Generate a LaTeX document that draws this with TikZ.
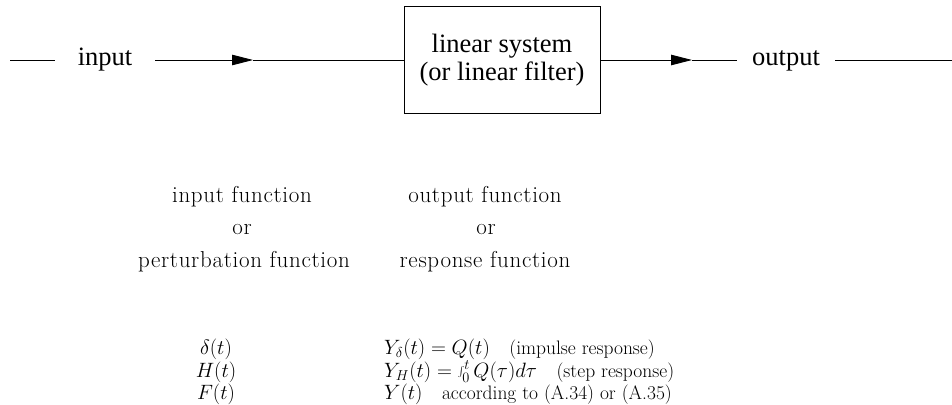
\documentclass[tikz,border=0pt]{standalone}
\usepackage{fontspec}
\setmainfont{Liberation Serif}
\newfontfamily\lmfont{Latin Modern Roman}
\newfontfamily\lmspaced[LetterSpace=3]{Latin Modern Roman}
\usetikzlibrary{arrows.meta}
\begin{document}
\begin{tikzpicture}[x=1pt,y=-1pt,
  line/.style={line width=0.9pt},
  arr/.style={line width=0.9pt,-{Triangle[length=21pt,width=10.5pt]}},
  toplab/.style={font=\fontsize{26.5}{28}\selectfont, inner sep=0pt, anchor=base},
  sysbox/.style={draw, line width=1pt, minimum width=196pt, minimum height=106pt, align=center, inner sep=0pt, font=\fontsize{26.5}{28}\selectfont},
  botlab/.style={font=\lmspaced\fontsize{23}{25}\selectfont, inner sep=0pt, anchor=base},
  mathlab/.style={font=\lmfont\fontsize{19.5}{22}\selectfont, inner sep=0pt, anchor=base, text height=14pt, text depth=4pt},
  mathrow/.style={font=\lmfont\fontsize{19.5}{22}\selectfont, inner sep=0pt, anchor=base west, text height=14pt, text depth=4pt}
]
\useasboundingbox (0,0) rectangle (952,404);
\node[sysbox] (box) at (502,60) {linear system\\(or linear filter)};
\coordinate (a0) at (10,60); \coordinate (a1) at (55,60);
\node[toplab] (in) at (105,66) {input};
\coordinate (b0) at (155,60); \coordinate (b1) at (253,60);
\coordinate (c1) at (692,60); \coordinate (c2) at (737,60);
\node[toplab] (out) at (786,66) {output};
\coordinate (d0) at (835,60); \coordinate (d1) at (952,60);
\draw[line] (a0) -- (a1);
\draw[arr] (b0) -- (b1);
\draw[line] (b1) -- (box.west);
\draw[arr] (box.east) -- (c1);
\draw[line] (c1) -- (c2);
\draw[line] (d0) -- (d1);
\node[botlab] (if) at (242,202) {input function};
\node[botlab] (or1) at (242,234.5) {or};
\node[botlab] (pf) at (244,267) {perturbation function};
\node[botlab] (of) at (485,202) {output function};
\node[botlab] (or2) at (486,234.5) {or};
\node[botlab] (rf) at (485,267) {response function};
\node[mathlab] (m1) at (216,354) {$\delta(t)$};
\node[mathlab] (m2) at (216,377.5) {$H(t)$};
\node[mathlab] (m3) at (216,399.5) {$F(t)$};
\node[mathrow] (r1) at (384,354) {$Y_\delta(t)=Q(t)$\quad(impulse response)};
\node[mathrow] (r2) at (384,377.5) {$Y_H(t)=\int_0^t Q(\tau)d\tau$\quad(step response)};
\node[mathrow] (r3) at (384,399.5) {$Y(t)$\quad according to (A.34) or (A.35)};
\end{tikzpicture}
\end{document}
